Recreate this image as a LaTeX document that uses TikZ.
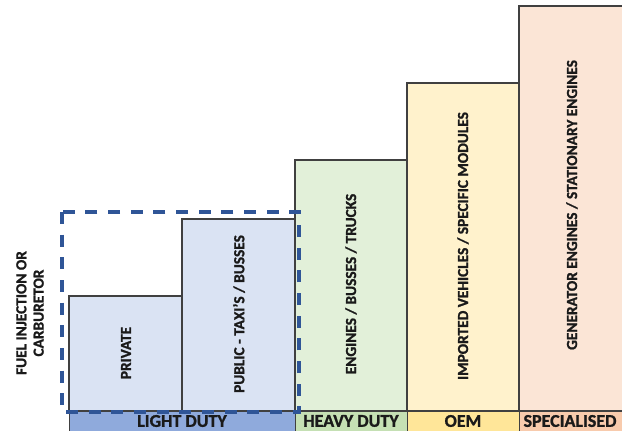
\documentclass[tikz,border=0pt]{standalone}
\usepackage{fontspec}
\setmainfont{Carlito}[BoldFont={Carlito Bold},BoldFeatures={FakeBold=1.2}]
\definecolor{ltblue}{HTML}{DAE3F3}
\definecolor{bdblue}{HTML}{8FAADC}
\definecolor{ltgreen}{HTML}{E2F0D9}
\definecolor{bdgreen}{HTML}{C5E0B4}
\definecolor{ltyellow}{HTML}{FFF2CC}
\definecolor{bdyellow}{HTML}{FFE699}
\definecolor{ltorange}{HTML}{FBE5D6}
\definecolor{bdorange}{HTML}{F8CBAD}
\definecolor{dashblue}{HTML}{2F5597}
\definecolor{edgegray}{HTML}{404040}
\definecolor{txt}{HTML}{1A1A1A}
\begin{document}
\begin{tikzpicture}[x=0.75pt,y=-0.75pt,
  bar/.style={draw=edgegray,line width=0.8pt},
  band/.style={draw=edgegray,line width=0.4pt},
  vlabel/.style={rotate=90,font=\bfseries\fontsize{11.5}{13}\selectfont,text=txt},
  blabel/.style={font=\bfseries\fontsize{13.5}{15}\selectfont,text=txt},
  dashbox/.style={draw=dashblue,line width=2.6pt,dash pattern=on 9pt off 8pt}]
\useasboundingbox (0,0) rectangle (622,430);
% bars
\draw[bar,fill=ltblue] (69,296) rectangle (182,411);
\draw[bar,fill=ltblue] (182,219) rectangle (295,411);
\draw[bar,fill=ltgreen] (295,160) rectangle (407,411);
\draw[bar,fill=ltyellow] (407,83) rectangle (519,411);
\draw[bar,fill=ltorange] (519,6) rectangle (630,411);
% bands
\draw[band,fill=bdblue] (69,411) rectangle (295,432);
\draw[band,fill=bdgreen] (295,411) rectangle (407,432);
\draw[band,fill=bdyellow] (407,411) rectangle (519,432);
\draw[band,fill=bdorange] (519,411) rectangle (630,432);
% vertical labels
\node[vlabel] (private) at (126,353) {PRIVATE};
\node[vlabel] (public) at (239,314) {PUBLIC - TAXI'S / BUSSES};
\node[vlabel] (heavy) at (351,284) {ENGINES / BUSSES / TRUCKS};
\node[vlabel] (oem) at (463,246) {IMPORTED VEHICLES / SPECIFIC MODULES};
\node[vlabel] (spec) at (572,205) {GENERATOR ENGINES / STATIONARY ENGINES};
% band labels
\node[blabel] (ld) at (182,421) {LIGHT DUTY};
\node[blabel] (hd) at (351,421) {HEAVY DUTY};
\node[blabel] (oemb) at (463,421) {OEM};
\node[blabel] (sp) at (570,421) {SPECIALISED};
% left label
\node[vlabel,align=center] (fuel) at (30,313) {FUEL INJECTION OR\\CARBURETOR};
% dashed box
\draw[dashbox] (62,212) rectangle (299,412);
\end{tikzpicture}
\end{document}
